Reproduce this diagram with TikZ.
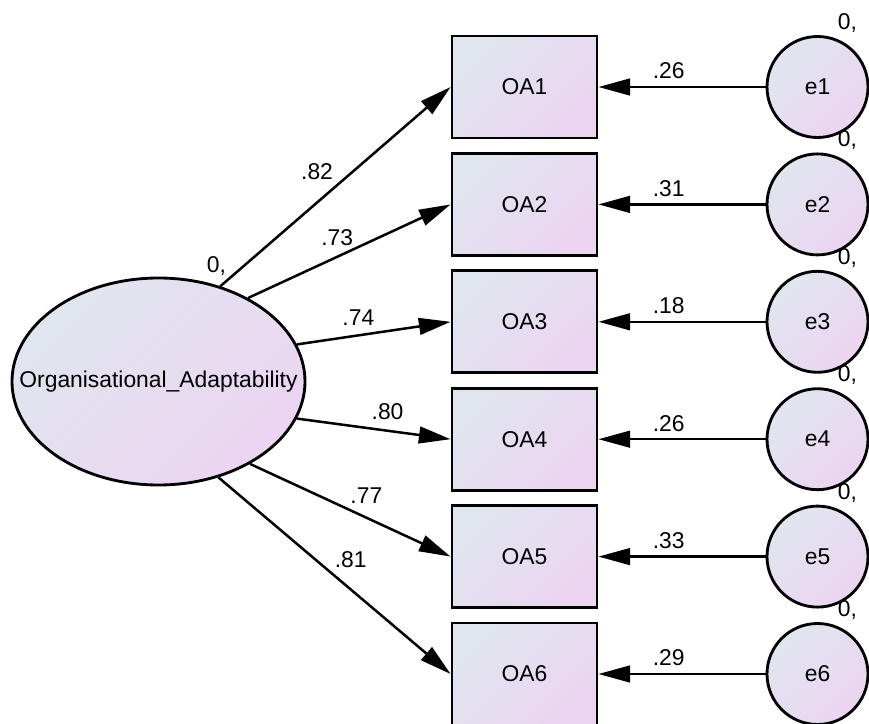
\documentclass[tikz,border=0pt]{standalone}
\usepackage{fontspec}
\setmainfont{Liberation Sans}
\usetikzlibrary{arrows.meta,shapes.geometric}
\definecolor{semblue}{HTML}{E0E6EE}
\definecolor{sempink}{HTML}{ECD4F2}

\begin{document}
\begin{tikzpicture}[x=0.3mm, y=-0.3mm,
  every node/.style={font=\fontsize{19.5}{21}\selectfont},
  semfill/.style={draw, line width=0.85mm, top color=semblue, bottom color=sempink, shading angle=45},
  obs/.style={semfill, rectangle, minimum width=43.5mm, minimum height=30.6mm, inner sep=0pt},
  err/.style={semfill, circle, minimum size=30.3mm, inner sep=0pt},
  loading/.style={line width=0.75mm, -{Triangle[length=9.5mm,width=5mm]}},
  coef/.style={inner sep=0pt}]
  \useasboundingbox (0,0) rectangle (869,724);

  % latent factor
  \node[semfill, ellipse, minimum width=87.9mm, minimum height=62.1mm, inner sep=0pt,
    label={center:Organisational\_Adaptability}] (adapt) at (158.5,381.5) {};
  \node[coef] at ([shift={(58,-116)}]adapt.center) {0,};

  % indicators and their errors
  \foreach \i in {1,...,6}{
    \node[obs] (oa\i) at (524.5,{87+117.4*(\i-1)}) {OA\i};
    \node[err] (e\i) at (817.5,{87+117.4*(\i-1)}) {e\i};
    \node[coef] at ([shift={(30,-64)}]e\i.center) {0,};
  }

  % loadings: box, angle, value, pos, lift
  \foreach \i/\a/\v/\t/\s in {1/57/.82/.42/31, 2/43/.73/.44/19, 3/15/.74/.40/18,
      4/-15/.80/.59/19, 5/-42/.77/.58/22, 6/-58/.81/.57/30}
    \draw[loading] (adapt.\a) -- node[coef, pos=\t, yshift=\s*0.3mm] {\v} (oa\i.west);

  % error paths
  \foreach \i/\v in {1/.26, 2/.31, 3/.18, 4/.26, 5/.33, 6/.29}
    \draw[loading] (e\i) -- node[coef, pos=.58, yshift=4.8mm] {\v} (oa\i);
\end{tikzpicture}
\end{document}
